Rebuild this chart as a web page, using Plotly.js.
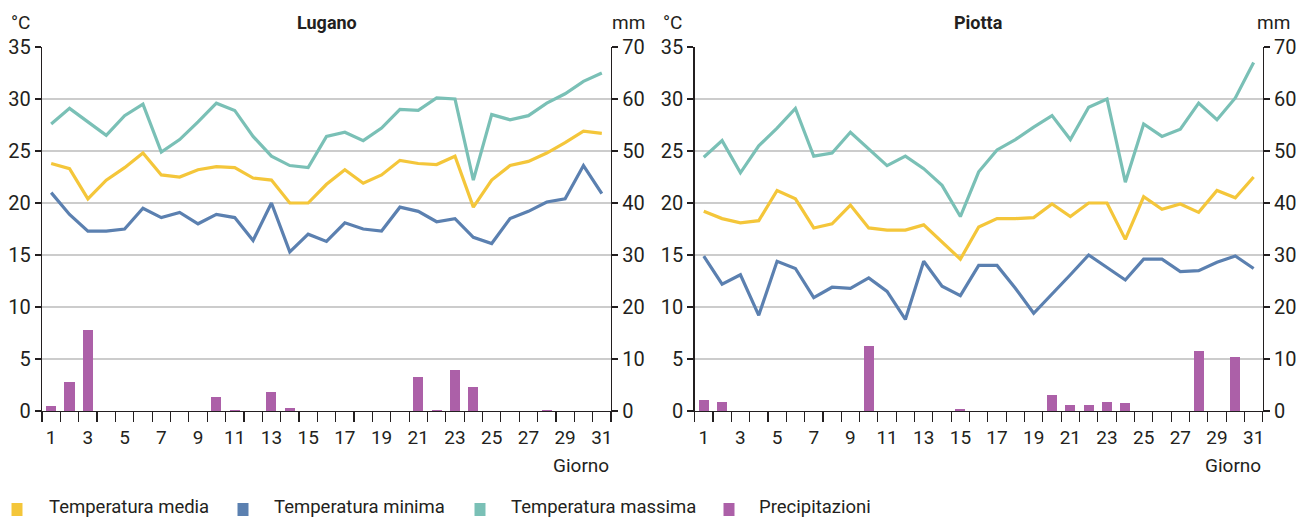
<!DOCTYPE html>
<html>
<head>
<meta charset="utf-8">
<script src="https://cdn.plot.ly/plotly-3.0.1.min.js"></script>
<style>html,body{margin:0;padding:0;background:#fff}#chart{width:1297px;height:519px}</style>
</head>
<body>
<div id="chart"></div>
<script>
// ---- data ----
const days = [1,2,3,4,5,6,7,8,9,10,11,12,13,14,15,16,17,18,19,20,21,22,23,24,25,26,27,28,29,30,31];
const dayTickLabels = [1,3,5,7,9,11,13,15,17,19,21,23,25,27,29,31];
const stations = ["Lugano", "Piotta"];
const seriesNames = ["Temperatura media", "Temperatura minima", "Temperatura massima", "Precipitazioni"];

const luganoMedia   = [23.8,23.3,20.4,22.2,23.4,24.8,22.7,22.5,23.2,23.5,23.4,22.4,22.2,20.0,20.0,21.8,23.2,21.9,22.7,24.1,23.8,23.7,24.5,19.6,22.2,23.6,24.0,24.8,25.8,26.9,26.7];
const luganoMinima  = [21.0,18.9,17.3,17.3,17.5,19.5,18.6,19.1,18.0,18.9,18.6,16.4,20.0,15.3,17.0,16.3,18.1,17.5,17.3,19.6,19.2,18.2,18.5,16.7,16.1,18.5,19.2,20.1,20.4,23.6,20.9];
const luganoMassima = [27.6,29.1,27.8,26.5,28.4,29.5,24.9,26.1,27.8,29.6,28.9,26.4,24.5,23.6,23.4,26.4,26.8,26.0,27.2,29.0,28.9,30.1,30.0,22.2,28.5,28.0,28.4,29.6,30.5,31.7,32.5];
const luganoPrec    = [1.0,5.6,15.6,0,0,0,0,0,0,2.6,0.25,0,3.7,0.6,0,0,0,0,0,0,6.6,0.2,7.8,4.7,0,0,0,0.2,0,0,0];

const piottaMedia   = [19.2,18.5,18.1,18.3,21.2,20.4,17.6,18.0,19.8,17.6,17.4,17.4,17.9,16.3,14.6,17.7,18.5,18.5,18.6,19.9,18.7,20.0,20.0,16.5,20.6,19.4,19.9,19.1,21.2,20.5,22.5];
const piottaMinima  = [14.9,12.2,13.1,9.2,14.4,13.7,10.9,11.9,11.8,12.8,11.5,8.8,14.4,12.0,11.1,14.0,14.0,11.8,9.4,11.2,13.1,15.0,13.8,12.6,14.6,14.6,13.4,13.5,14.3,14.9,13.7];
const piottaMassima = [24.4,26.0,22.9,25.5,27.2,29.1,24.5,24.8,26.8,25.2,23.6,24.5,23.3,21.7,18.7,23.0,25.1,26.1,27.3,28.4,26.1,29.2,30.0,22.0,27.6,26.4,27.1,29.6,28.0,30.1,33.5];
const piottaPrec    = [2.2,1.7,0,0,0,0,0,0,0,12.5,0,0,0,0,0.3,0,0,0,0,3.1,1.2,1.2,1.8,1.5,0,0,0,11.6,0,10.3,0];

// ---- styling ----
const W = 1297, H = 519;
const TOP = 47, BOTTOM = 411;
const colors = ["#F4C63A", "#5B80B0", "#7AC0B6", "#AC60A8"];
const FONT = "Roboto, Liberation Sans, sans-serif";
const TXT = "#231f20";
const domains = [[42/W, 611/W], [694.6/W, 1262.8/W]];
const px = v => v / W;
const py = v => (BOTTOM - v) / (BOTTOM - TOP);

const boundaries = [0.5].concat(days.map(d => d + 0.5));

const data = [];
const stationData = [
  [luganoMedia, luganoMinima, luganoMassima, luganoPrec],
  [piottaMedia, piottaMinima, piottaMassima, piottaPrec]
];
stationData.forEach((s, i) => {
  const xa = i === 0 ? 'x' : 'x2';
  const yT = i === 0 ? 'y' : 'y3';
  const yP = i === 0 ? 'y2' : 'y4';
  data.push({type:'bar', x: days, y: s[3], xaxis: xa, yaxis: yP, width: 0.55,
             marker:{color: colors[3], line:{width:0}}, name: seriesNames[3], showlegend:false, hoverinfo:'skip'});
  [2,0,1].forEach(k => {
    data.push({type:'scatter', mode:'lines', x: days, y: s[k], xaxis: xa, yaxis: yT,
               line:{color: colors[k], width: 3.2, shape:'linear'}, name: seriesNames[k], showlegend:false, hoverinfo:'skip'});
  });
});

function xAxis(dom, anchor) {
  return {domain: dom, anchor: anchor, range:[0.5, 31.5], showgrid:false, zeroline:false,
          showline:true, linecolor:'#231f20', linewidth:1.3,
          tickmode:'array', tickvals: dayTickLabels, ticktext: dayTickLabels.map(String), ticks:'',
          ticklabelstandoff: 9,
          tickfont:{family:FONT, size:19, color:TXT},
          minor:{tickmode:'array', tickvals: boundaries, ticks:'outside', ticklen:10, tickwidth:1.2, tickcolor:'#231f20', showgrid:false},
          fixedrange:true};
}
function yLeft(anchor) {
  return {domain:[0,1], anchor: anchor, range:[0,35], dtick:5, tick0:0, ticks:'outside', ticklen:6, tickwidth:1.2,
          tickcolor:'#231f20', showline:true, linecolor:'#231f20', linewidth:1.3,
          showgrid:true, gridcolor:'#cccccc', gridwidth:1.2, zeroline:false,
          tickfont:{family:FONT, size:20, color:TXT}, fixedrange:true};
}
function yRight(anchor, over) {
  return {domain:[0,1], anchor: anchor, overlaying: over, side:'right', range:[0,70], dtick:10, tick0:0,
          ticks:'outside', ticklen:6, tickwidth:1.2, tickcolor:'#231f20', showline:true, linecolor:'#231f20', linewidth:1.3,
          showgrid:false, zeroline:false, tickfont:{family:FONT, size:20, color:TXT}, fixedrange:true};
}

const annotations = [];
const shapes = [];
const unitPos = [[20, 628], [672, 1273]];
stations.forEach((name, i) => {
  const center = (domains[i][0] + domains[i][1]) / 2;
  annotations.push({xref:'paper', yref:'paper', x:center, y:py(22), text:'<b>'+name+'</b>', showarrow:false,
                    xanchor:'center', yanchor:'middle', font:{family:FONT, size:18, color:TXT}});
  annotations.push({xref:'paper', yref:'paper', x:px(unitPos[i][0]), y:py(22), text:'°C', showarrow:false,
                    xanchor:'center', yanchor:'middle', font:{family:FONT, size:19, color:TXT}});
  annotations.push({xref:'paper', yref:'paper', x:px(unitPos[i][1]), y:py(22), text:'mm', showarrow:false,
                    xanchor:'center', yanchor:'middle', font:{family:FONT, size:19, color:TXT}});
  annotations.push({xref:'paper', yref:'paper', x:domains[i][1], y:py(466), text:'Giorno', showarrow:false,
                    xanchor:'right', yanchor:'middle', font:{family:FONT, size:19, color:TXT}});
});

const legendSq = [17, 243, 480, 729];
const legendTx = [47, 272, 509, 757];
seriesNames.forEach((n, k) => {
  shapes.push({type:'rect', xref:'paper', yref:'paper', x0:px(legendSq[k]-5.5), x1:px(legendSq[k]+5.5),
               y0:py(516), y1:py(503), fillcolor:colors[k], line:{width:0}});
  annotations.push({xref:'paper', yref:'paper', x:px(legendTx[k]), y:py(507), text:n, showarrow:false,
                    xanchor:'left', yanchor:'middle', font:{family:FONT, size:18.5, color:TXT}});
});

const layout = {
  width: W, height: H,
  margin:{l:0, r:0, t:TOP, b:H-BOTTOM, pad:0},
  paper_bgcolor:'#fff', plot_bgcolor:'rgba(0,0,0,0)',
  showlegend:false, bargap:0,
  xaxis: xAxis(domains[0], 'y'),
  yaxis: yLeft('x'),
  yaxis2: yRight('x', 'y'),
  xaxis2: xAxis(domains[1], 'y3'),
  yaxis3: yLeft('x2'),
  yaxis4: yRight('x2', 'y3'),
  annotations: annotations,
  shapes: shapes,
  font:{family:FONT, color:TXT}
};

Plotly.newPlot('chart', data, layout, {displayModeBar:false, staticPlot:true});
</script>
</body>
</html>
